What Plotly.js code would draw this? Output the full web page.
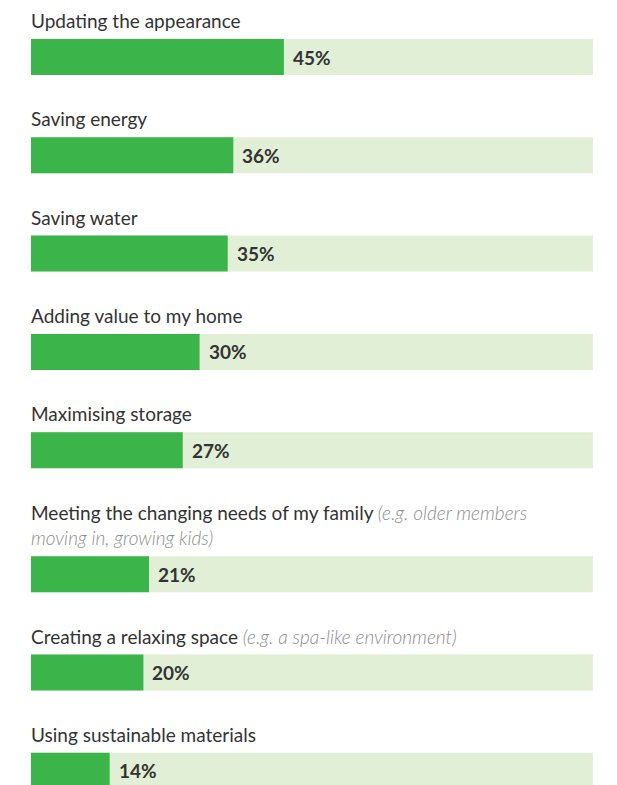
<!DOCTYPE html>
<html>
<head>
<meta charset="utf-8">
<script src="https://cdn.plot.ly/plotly-3.0.1.min.js"></script>
<style>html,body{margin:0;padding:0;background:#fff;}#chart{width:617px;height:785px;}</style>
</head>
<body>
<div id="chart"></div>
<script>
// ---- data ----
const labels = [
  "Updating the appearance",
  "Saving energy",
  "Saving water",
  "Adding value to my home",
  "Maximising storage",
  "Meeting the changing needs of my family",
  "Creating a relaxing space",
  "Using sustainable materials"
];
const notes = [
  "", "", "", "", "",
  "(e.g. older members<br>moving in, growing kids)",
  "(e.g. a spa-like environment)",
  ""
];
const values = [45, 36, 35, 30, 27, 21, 20, 14];
const fullScale = [100, 100, 100, 100, 100, 100, 100, 100];

// ---- layout helpers (pixel units on y axis) ----
const firstTop = 39, rowStep = 98.3, extraLine = 25.7, barH = 36;
const tops = [];
let extra = 0;
for (let i = 0; i < labels.length; i++) {
  const nBreaks = (notes[i].match(/<br>/g) || []).length;
  extra += nBreaks * extraLine;
  tops.push(firstTop + i * rowStep + extra);
}
const centers = tops.map(t => t + barH / 2);

const green = "#3bb54a", light = "#e1efd6";
const font = "Lato, 'Source Sans Pro', 'Open Sans', sans-serif";

const traces = [
  {type: "bar", orientation: "h", x: fullScale, y: centers, width: barH,
   marker: {color: light}, hoverinfo: "skip"},
  {type: "bar", orientation: "h", x: values, y: centers, width: barH,
   marker: {color: green}, hoverinfo: "skip"}
];

const annotations = [];
labels.forEach((lab, i) => {
  let txt = lab;
  if (notes[i]) txt += " <i><span style=\"color:#8c8c8c;font-weight:300\">" + notes[i] + "</span></i>";
  annotations.push({
    x: 0, xref: "x", y: tops[i], yref: "y", xanchor: "left", yanchor: "bottom",
    align: "left", text: txt, showarrow: false, xshift: -2, yshift: 5,
    font: {family: font, size: 19, color: "#333333"}
  });
  annotations.push({
    x: values[i], xref: "x", y: centers[i], yref: "y", xanchor: "left", yanchor: "middle",
    text: "<b>" + values[i] + "%</b>", showarrow: false, xshift: 7,
    font: {family: font, size: 19, color: "#333333"}
  });
});

const layout = {
  width: 617, height: 785,
  margin: {l: 31, r: 24, t: 0, b: 0},
  barmode: "overlay",
  showlegend: false,
  paper_bgcolor: "#ffffff", plot_bgcolor: "#ffffff",
  xaxis: {range: [0, 100], visible: false, fixedrange: true},
  yaxis: {range: [785, 0], visible: false, fixedrange: true},
  annotations: annotations
};

Plotly.newPlot("chart", traces, layout, {displayModeBar: false, staticPlot: true});
</script>
</body>
</html>
